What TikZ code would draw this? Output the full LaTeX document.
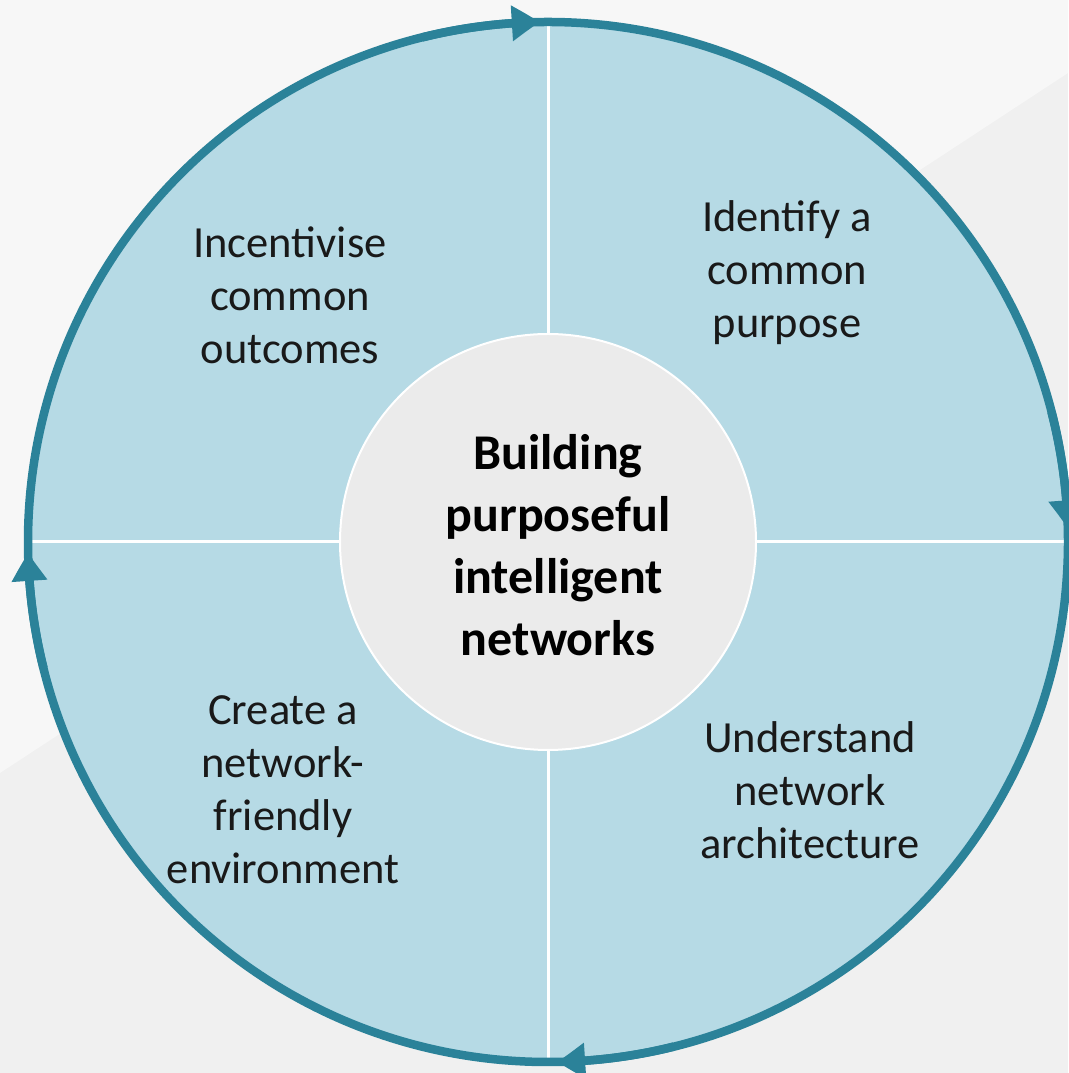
\documentclass[tikz,border=0pt]{standalone}
\usepackage{fontspec}
\setmainfont{Carlito}
\usetikzlibrary{arrows.meta,bending}
\definecolor{bgA}{HTML}{F0F0F0}
\definecolor{bgB}{HTML}{F7F7F7}
\definecolor{quad}{HTML}{B6DAE5}
\definecolor{ring}{HTML}{2B8299}
\definecolor{core}{HTML}{EBEBEB}
\tikzset{
  quadtext/.style={align=center, font=\fontsize{44.5}{53}\selectfont, text=black!90},
  coretext/.style={align=center, font=\fontsize{50}{62}\selectfont\bfseries, text=black},
  ringarrow/.style={draw=ring, line width=8.5pt, -{Triangle[length=28pt,width=34pt,bend]}},
}
\begin{document}
\begin{tikzpicture}[x=1pt,y=1pt]
  % background
  \fill[bgA] (0,0) rectangle (1068,1073);
  \fill[bgB] (0,1073) -- (1068,1073) -- (1068,1000) -- (0,300) -- cycle;
  \useasboundingbox (0,0) rectangle (1068,1073);
  \coordinate (c) at (548,531);
  % outer disc
  \node[circle, fill=quad, minimum size=1040pt, inner sep=0pt] (outer) at (c) {};
  % dividers
  \draw[white, line width=3pt] (outer.north) -- (outer.south);
  \draw[white, line width=3pt] (outer.west) -- (outer.east);
  % inner disc
  \node[circle, fill=core, draw=white, line width=2pt, minimum size=416pt, inner sep=0pt] (inner) at (c) {};
  % ring
  \draw[ring, line width=8.5pt] (c) circle[radius=520];
  % arrows (clockwise)
  \draw[ringarrow] (c) ++(104:520) arc[start angle=104, end angle=90.9, radius=520];
  \draw[ringarrow] (c) ++(14.5:520) arc[start angle=14.5, end angle=1.5, radius=520];
  \draw[ringarrow] (c) ++(284:520) arc[start angle=284, end angle=271, radius=520];
  \draw[ringarrow] (c) ++(194:520) arc[start angle=194, end angle=181.2, radius=520];
  % texts
  \node[quadtext] (tl) at (290,778) {Incentivise\\common\\outcomes};
  \node[quadtext] (tr) at (787,800) {Identify a\\common\\purpose};
  \node[quadtext] (bl) at (283,283) {Create a\\network-\\friendly\\environment};
  \node[quadtext] (br) at (810,283) {Understand\\network\\architecture};
  \node[coretext] (ctr) at (558,528) {Building\\purposeful\\intelligent\\networks};
\end{tikzpicture}
\end{document}
